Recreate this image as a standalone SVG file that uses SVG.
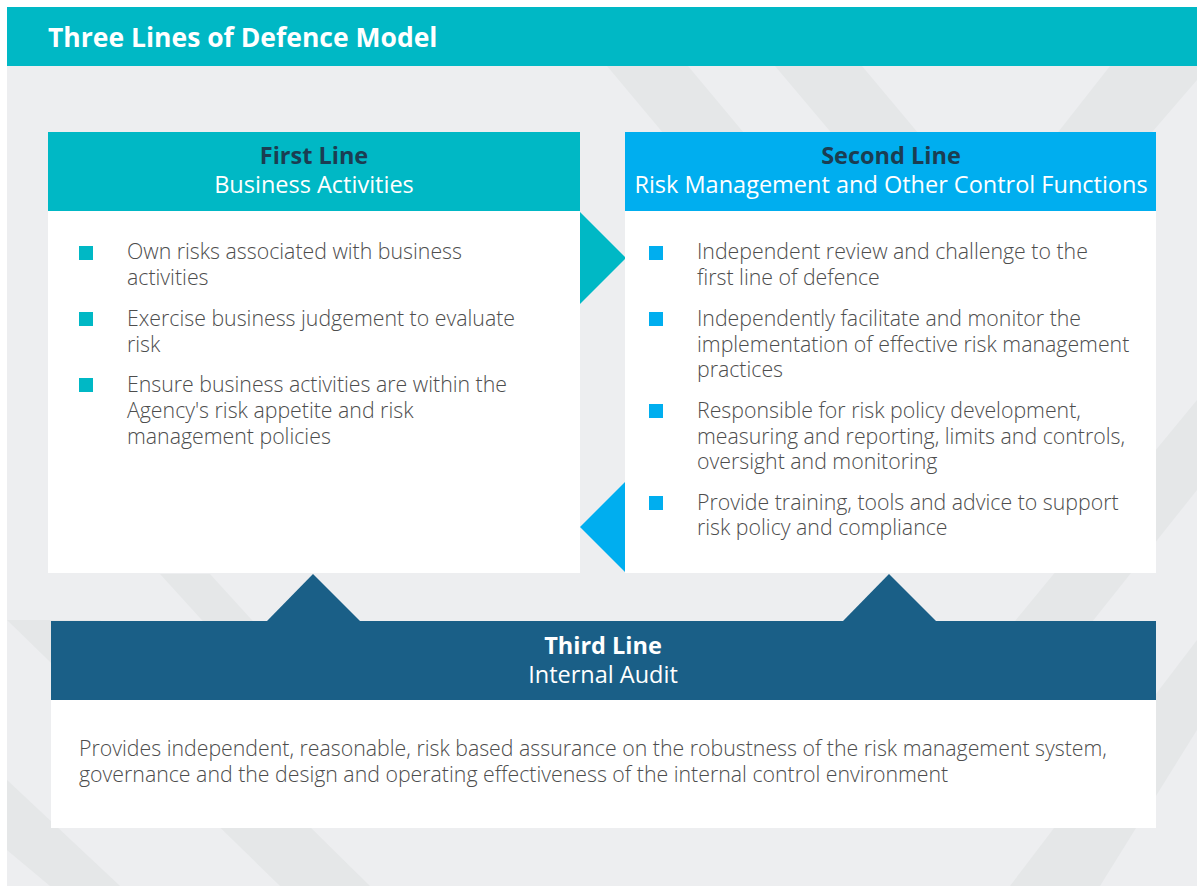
<svg xmlns="http://www.w3.org/2000/svg" width="1197" height="886" viewBox="0 0 1197 886">
<style>
.bg{fill:#EDEEF0}
.band{fill:#E5E7E8}
.title{font-family:"Open Sans","Liberation Sans",sans-serif;font-weight:700;font-size:26.5px;fill:#FFFFFF}
.hb{font-family:"Open Sans","Liberation Sans",sans-serif;font-weight:700;font-size:23.5px;text-anchor:middle}
.hr{font-family:"Open Sans","Liberation Sans",sans-serif;font-weight:400;font-size:23.5px;text-anchor:middle;fill:#FFFFFF}
.body{font-family:"Open Sans","Liberation Sans",sans-serif;font-weight:300;font-size:21.3px;fill:#4D4D4D}
.body3{font-family:"Open Sans","Liberation Sans",sans-serif;font-weight:300;font-size:21.3px;fill:#4D4D4D}
.teal{fill:#00B8C5}
.blue{fill:#00AEEF}
.navy{fill:#1A5F87}
.white{fill:#FFFFFF}
</style>
<rect x="0" y="0" width="1197" height="886" fill="#FFFFFF"/>
<rect class="bg" x="7" y="66" width="1190" height="820"/>
<g id="background-bands">
<polygon class="band" points="607,66 688,66 1000,440 920,440"/>
<polygon class="band" points="775,66 862,66 1150,410 1065,410"/>
<polygon class="band" points="1110,66 1197,66 1197,80 1085,210 997,210"/>
<polygon class="band" points="7,620 100,620 370,886 280,886"/>
<polygon class="band" points="160,574 210,574 270,640 220,640"/>
<polygon class="band" points="1197,400 1197,490 1030,700 950,700"/>
<polygon class="band" points="1197,640 1197,730 1100,886 1010,886"/>
<polygon class="band" points="7,780 7,850 50,886 120,886"/>
</g>
<g id="header">
<rect class="teal" x="7" y="7" width="1190" height="59"/>
<text class="title" x="48" y="47">Three Lines of Defence Model</text>
</g>
<g id="connectors">
<polygon class="teal" points="580,212 580,304 626,258"/>
<polygon class="blue" points="626,481 626,573 580,527"/>
<polygon class="navy" points="267,621 313,574 360,621"/>
<polygon class="navy" points="843,621 889,574 936,621"/>
</g>
<g id="first-line">
<rect class="white" x="48" y="211" width="532" height="362"/>
<rect class="teal" x="48" y="132" width="532" height="79"/>
<text class="hb" x="314" y="164" fill="#1B3D52">First Line</text>
<text class="hr" x="314" y="193">Business Activities</text>
<rect class="teal" x="79" y="246" width="14" height="14"/>
<rect class="teal" x="79" y="312" width="14" height="14"/>
<rect class="teal" x="79" y="378" width="14" height="14"/>
<text class="body" x="127" y="259">Own risks associated with business</text>
<text class="body" x="127" y="285">activities</text>
<text class="body" x="127" y="326">Exercise business judgement to evaluate</text>
<text class="body" x="127" y="352">risk</text>
<text class="body" x="127" y="392">Ensure business activities are within the</text>
<text class="body" x="127" y="418">Agency's risk appetite and risk</text>
<text class="body" x="127" y="444">management policies</text>
</g>
<g id="second-line">
<rect class="white" x="625" y="211" width="531" height="362"/>
<rect class="blue" x="625" y="132" width="531" height="79"/>
<text class="hb" x="891" y="164" fill="#1B3D52">Second Line</text>
<text class="hr" x="891" y="193">Risk Management and Other Control Functions</text>
<rect class="blue" x="649" y="246" width="14" height="14"/>
<rect class="blue" x="649" y="312" width="14" height="14"/>
<rect class="blue" x="649" y="404" width="14" height="14"/>
<rect class="blue" x="649" y="496" width="14" height="14"/>
<text class="body" x="697" y="259">Independent review and challenge to the</text>
<text class="body" x="697" y="285">first line of defence</text>
<text class="body" x="697" y="326">Independently facilitate and monitor the</text>
<text class="body" x="697" y="352">implementation of effective risk management</text>
<text class="body" x="697" y="377">practices</text>
<text class="body" x="697" y="418">Responsible for risk policy development,</text>
<text class="body" x="697" y="444">measuring and reporting, limits and controls,</text>
<text class="body" x="697" y="469">oversight and monitoring</text>
<text class="body" x="697" y="510">Provide training, tools and advice to support</text>
<text class="body" x="697" y="535">risk policy and compliance</text>
</g>
<g id="third-line">
<rect class="white" x="51" y="700" width="1105" height="128"/>
<rect class="navy" x="51" y="621" width="1105" height="79"/>
<text class="hb" x="603" y="654" fill="#FFFFFF">Third Line</text>
<text class="hr" x="603" y="683">Internal Audit</text>
<text class="body3" x="79" y="756">Provides independent, reasonable, risk based assurance on the robustness of the risk management system,</text>
<text class="body3" x="79" y="782">governance and the design and operating effectiveness of the internal control environment</text>
</g>
</svg>
